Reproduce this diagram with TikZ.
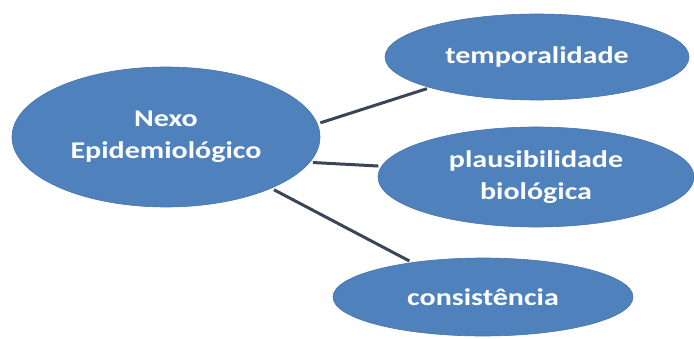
\documentclass[tikz,border=0pt]{standalone}
\usepackage{fontspec}
\setmainfont{Carlito}[FakeStretch=1.25]
\usetikzlibrary{shapes.geometric}

\definecolor{bubbleblue}{HTML}{4F81BD}
\definecolor{bubbleedge}{HTML}{4874AC}
\definecolor{linkgray}{HTML}{3A4556}

\begin{document}
\begin{tikzpicture}[x = 1pt, y = 1pt,
		bubble/.style = {ellipse, fill = bubbleblue, draw = bubbleedge, line width = 0.6pt, inner sep = 0pt,
			text = white, align = center, font = \bfseries\fontsize{24}{32}\selectfont},
		link/.style = {draw = linkgray, line width = 3pt, shorten <= 3pt, shorten >= 3pt}]

		\useasboundingbox (0, 0) rectangle (694, 338);

		\node[bubble, minimum width = 308, minimum height = 140] (nexo) at (166, 201) {Nexo\\Epidemiológico};
		\node[bubble, minimum width = 304, minimum height = 86] (temp) at (537, 281) {temporalidade};
		\node[bubble, minimum width = 316, minimum height = 100] (plaus) at (536, 161) {plausibilidade\\biológica};
		\node[bubble, minimum width = 300, minimum height = 78] (consist) at (483, 41) {consistência};

		\draw[link] (nexo.5) -- (temp.196);
		\draw[link] (nexo.-10) -- (plaus.176);
		\draw[link] (nexo.-26) -- (consist.154);

	\end{tikzpicture}
\end{document}
